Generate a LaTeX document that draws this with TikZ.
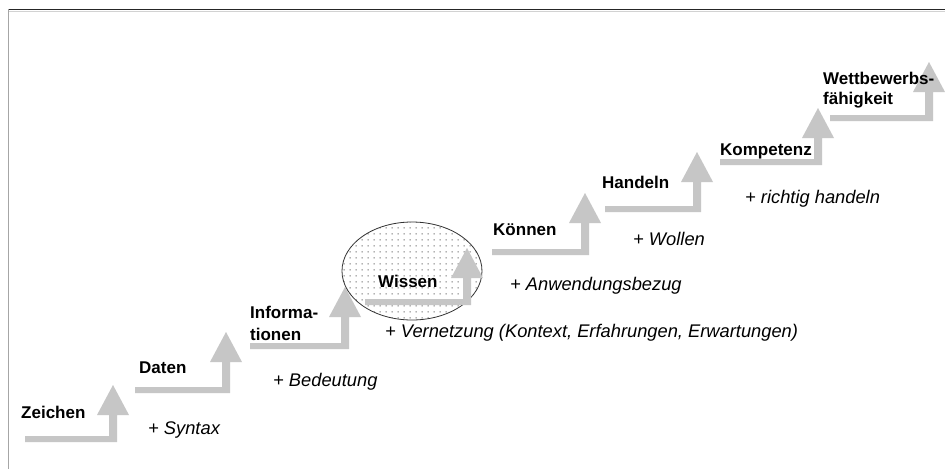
\documentclass[tikz,border=0pt]{standalone}
\usepackage{fontspec}
\setmainfont{Liberation Sans}
\usetikzlibrary{patterns.meta,shapes.geometric}

% sparse dot texture for the "Wissen" ellipse
\pgfdeclarepattern{
  name=sparsedots, type=uncolored,
  bottom left={\pgfpoint{0pt}{0pt}}, top right={\pgfpoint{6pt}{6pt}},
  tile size={\pgfpoint{6pt}{6pt}},
  code={\pgfpathrectangle{\pgfpoint{2pt}{2pt}}{\pgfpoint{1pt}{1pt}}\pgfusepath{fill}}
}

\tikzset{
  lbl/.style={font=\bfseries\fontsize{17}{19}\selectfont, anchor=base west, inner sep=0pt},
  note/.style={font=\itshape\fontsize{18.3}{20}\selectfont, anchor=base west, inner sep=0pt},
  stairfill/.style={fill=gray!45, draw=none},
}

% L-shaped step arrow: #1 start of bar, #2 shaft centre, #3 bar height, #4 tip height
\newcommand\stairarrow[4]{%
  \fill[stairfill] (#1,#3+3) -- (#2+4,#3+3) -- (#2+4,#4+30) -- (#2+16,#4+30)
    -- (#2,#4) -- (#2-16,#4+30) -- (#2-4,#4+30) -- (#2-4,#3-3) -- (#1,#3-3) -- cycle;}

\begin{document}
\begin{tikzpicture}[x=1pt,y=-1pt]
  \useasboundingbox (0,0) rectangle (945,469);
  \fill[white] (0,0) rectangle (945,469);

  % frame (top and left edges)
  \draw[black!85, line width=1.2pt] (8,9.5) -- (945,9.5);
  \draw[gray!35, line width=0.8pt] (9,11) -- (945,11);
  \draw[gray!70, line width=1.4pt] (8.5,9) -- (8.5,469);

  % stairs up to the ellipse
  \stairarrow{25}{113}{439}{385}
  \stairarrow{135}{226}{390}{332}
  \stairarrow{250}{345}{346}{287}

  % Wissen ellipse
  \node[draw=black!80, line width=0.8pt, ellipse, minimum width=140pt, minimum height=98pt,
        pattern=sparsedots, pattern color=black!70] (wissenEll) at (412,271) {};

  % stairs from the ellipse upwards
  \stairarrow{365}{467}{302}{248}
  \stairarrow{492}{585}{252}{193}
  \stairarrow{605}{697}{209}{152}
  \stairarrow{720}{818}{162}{108}
  \stairarrow{830}{929}{118}{62}

  % step labels
  \node[lbl] (zeichen) at (21,418) {Zeichen};
  \node[lbl] (daten) at (139,373) {Daten};
  \node[lbl] (infoA) at (250,318) {Informa-};
  \node[lbl] (infoB) at (250,340) {tionen};
  \node[lbl] (wissen) at (378,287) {Wissen};
  \node[lbl] (koennen) at (493,235) {Können};
  \node[lbl] (handeln) at (602,188) {Handeln};
  \node[lbl] (kompetenz) at (720,155) {Kompetenz};
  \node[lbl] (wettA) at (823,84) {Wettbewerbs-};
  \node[lbl] (wettB) at (823,104) {fähigkeit};

  % additions per step
  \node[note] (syntax) at (148,434) {+ Syntax};
  \node[note] (bedeutung) at (273,386) {+ Bedeutung};
  \node[note] (vernetzung) at (385,337) {+ Vernetzung (Kontext, Erfahrungen, Erwartungen)};
  \node[note] (anwendung) at (510,290) {+ Anwendungsbezug};
  \node[note] (wollen) at (633,245) {+ Wollen};
  \node[note] (richtig) at (745,203) {+ richtig handeln};
\end{tikzpicture}
\end{document}
